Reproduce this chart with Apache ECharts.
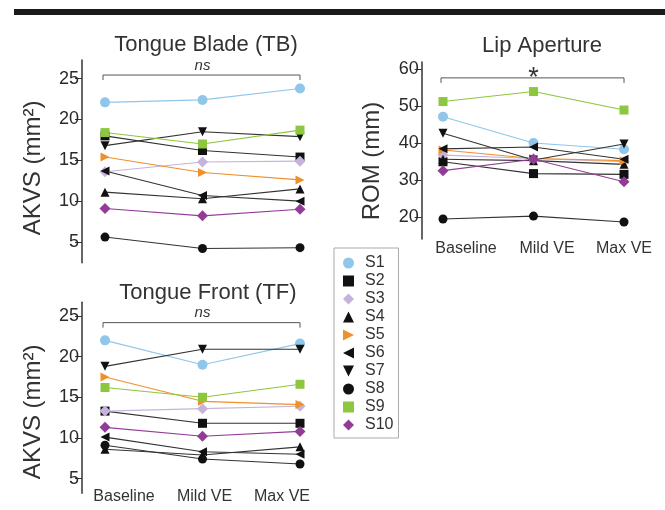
<!DOCTYPE html>
<html>
<head>
<meta charset="utf-8">
<script src="https://cdn.jsdelivr.net/npm/echarts@6/dist/echarts.min.js"></script>
<style>html,body{margin:0;padding:0;background:#fff}#c{width:665px;height:510px}</style>
</head>
<body>
<div id="c"></div>
<script>
// ---- data ----
const categories = ['Baseline', 'Mild VE', 'Max VE'];
const subjects = ['S1', 'S2', 'S3', 'S4', 'S5', 'S6', 'S7', 'S8', 'S9', 'S10'];
// Tongue Blade AKVS (mm²), one row per subject
const tongueBlade = [
  [22.1, 22.4, 23.8],
  [18.0, 16.2, 15.4],
  [13.6, 14.8, 14.9],
  [11.1, 10.3, 11.5],
  [15.4, 13.5, 12.6],
  [13.7, 10.7, 10.0],
  [16.8, 18.5, 17.9],
  [5.6, 4.2, 4.3],
  [18.4, 17.0, 18.7],
  [9.1, 8.2, 9.0]
];
// Tongue Front AKVS (mm²)
const tongueFront = [
  [22.0, 19.0, 21.6],
  [13.3, 11.8, 11.8],
  [13.3, 13.6, 13.9],
  [8.6, 7.9, 8.9],
  [17.5, 14.5, 14.1],
  [10.1, 8.3, 8.0],
  [18.8, 20.9, 20.9],
  [9.1, 7.4, 6.8],
  [16.2, 15.0, 16.6],
  [11.3, 10.2, 10.8]
];
// Lip Aperture ROM (mm)
const lipAperture = [
  [47.2, 40.1, 38.4],
  [35.0, 31.8, 31.6],
  [36.8, 35.9, 35.0],
  [35.7, 35.3, 34.3],
  [38.2, 35.9, 35.3],
  [38.5, 39.0, 35.7],
  [42.7, 35.5, 39.8],
  [19.5, 20.3, 18.7],
  [51.3, 54.0, 49.0],
  [32.6, 35.7, 29.6]
];
const akvsTicks = [5, 10, 15, 20, 25];
const romTicks = [20, 30, 40, 50, 60];

// ---- styles ----
const FONT = '"Liberation Sans", Arial, sans-serif';
const markerColors = ['#8fc6ea', '#111111', '#c6b3dd', '#111111', '#f0902a', '#111111', '#111111', '#111111', '#8dc63f', '#933c97'];
const lineColors = ['#8fc6ea', '#333333', '#c6b3dd', '#333333', '#f0902a', '#333333', '#333333', '#333333', '#8dc63f', '#933c97'];
const symbols = ['circle', 'rect', 'diamond', 'triangle',
  'path://M0,0L10,5L0,10Z', 'path://M10,0L0,5L10,10Z', 'path://M0,0L10,0L5,10Z',
  'circle', 'rect', 'diamond'];
const symbolSizes = [10, 9, 11, 9, 9, 9, 9, 9, 9, 11];

function yAxis(gridIndex, min, max, ticks, name, offset, shift) {
  return {
    type: 'value', gridIndex, min, max, offset,
    name, nameLocation: 'middle', nameGap: 37, nameRotate: 90,
    nameTextStyle: { fontSize: 24, color: '#333', fontFamily: FONT, padding: [0, shift, 0, 0] },
    axisLine: { show: true, lineStyle: { color: '#333', width: 1.5 } },
    axisTick: { show: true, length: 7, customValues: ticks, lineStyle: { color: '#333', width: 1 } },
    axisLabel: { customValues: ticks, fontSize: 18, color: '#2a2a2a', margin: 3, fontFamily: FONT },
    splitLine: { show: false }
  };
}
function xAxis(gridIndex, showLabel, pads, margin) {
  const rich = {};
  pads.forEach((p, i) => { rich['p' + i] = { padding: p, fontSize: 16, color: '#333', fontFamily: FONT }; });
  return {
    type: 'category', gridIndex, data: categories, boundaryGap: false,
    axisLine: { show: false }, axisTick: { show: false }, splitLine: { show: false },
    axisLabel: {
      show: showLabel, interval: 0, margin,
      formatter: (v, i) => '{p' + i + '|' + v + '}', rich
    }
  };
}

const series = [];
[tongueBlade, tongueFront, lipAperture].forEach((panel, g) => {
  panel.forEach((vals, i) => {
    series.push({
      name: subjects[i], type: 'line', xAxisIndex: g, yAxisIndex: g,
      data: vals, symbol: symbols[i], symbolSize: symbolSizes[i],
      showAllSymbol: true, animation: false, silent: true,
      itemStyle: { color: markerColors[i], borderWidth: 0 },
      lineStyle: { color: lineColors[i], width: 1.1 },
      z: 2
    });
  });
});

const chart = echarts.init(document.getElementById('c'), null, { renderer: 'canvas' });
chart.setOption({
  backgroundColor: '#fff',
  animation: false,
  title: [
    { text: 'Tongue Blade (TB)', left: 206, top: 34, textAlign: 'center', padding: 0,
      textStyle: { fontSize: 22, fontWeight: 'normal', color: '#333', fontFamily: FONT } },
    { text: 'Tongue Front (TF)', left: 208, top: 282, textAlign: 'center', padding: 0,
      textStyle: { fontSize: 22, fontWeight: 'normal', color: '#333', fontFamily: FONT } },
    { text: 'Lip Aperture', left: 542, top: 35, textAlign: 'center', padding: 0,
      textStyle: { fontSize: 22, fontWeight: 'normal', color: '#333', fontFamily: FONT } }
  ],
  legend: {
    orient: 'vertical', left: 334, top: 248, selectedMode: false,
    padding: [6, 5, 4, 9], itemGap: 0, itemWidth: 11, itemHeight: 11,
    borderColor: '#aaa', borderWidth: 1,
    textStyle: { fontSize: 16, color: '#333', fontFamily: FONT, lineHeight: 18, padding: [0, 0, 0, 6] },
    data: subjects.map((s, i) => ({ name: s, icon: symbols[i], itemStyle: { color: markerColors[i] } }))
  },
  grid: [
    { left: 105, top: 60, width: 195, height: 202.7 },
    { left: 105, top: 302.3, width: 195, height: 191 },
    { left: 443, top: 62, width: 181, height: 177 }
  ],
  xAxis: [
    xAxis(0, false, [[0, 0, 0, 0], [0, 0, 0, 0], [0, 0, 0, 0]], 0),
    xAxis(1, true, [[0, 0, 0, 38], [0, 0, 0, 4], [0, 36, 0, 0]], -5),
    xAxis(2, true, [[0, 0, 0, 46], [0, 0, 0, 27], [0, 0, 0, 0]], 2)
  ],
  yAxis: [
    yAxis(0, 2.46, 27.29, akvsTicks, 'AKVS (mm²)', 23, 13),
    yAxis(1, 3.19, 26.68, akvsTicks, 'AKVS (mm²)', 23, 28),
    yAxis(2, 14.1, 62, romTicks, 'ROM (mm)', 21.3, 21)
  ],
  series
});

// significance brackets and header bar
const brackets = [
  { grid: 0, y: 25.45, label: 'ns', italic: true, size: 15 },
  { grid: 1, y: 24.18, label: 'ns', italic: true, size: 15 },
  { grid: 2, y: 57.7, label: '*', italic: false, size: 27 }
];
const graphics = [
  { type: 'rect', shape: { x: 14, y: 9, width: 651, height: 6 }, style: { fill: '#1a1a1a' }, silent: true }
];
brackets.forEach(b => {
  const p0 = chart.convertToPixel({ gridIndex: b.grid }, [0, b.y]);
  const p1 = chart.convertToPixel({ gridIndex: b.grid }, [2, b.y]);
  const h = 5;
  graphics.push({
    type: 'polyline', silent: true,
    shape: { points: [[p0[0] - 2, p0[1] + h], [p0[0] - 2, p0[1]], [p1[0], p1[1]], [p1[0], p1[1] + h]] },
    style: { stroke: '#555', lineWidth: 1, fill: null }
  });
  const mid = (p0[0] + p1[0]) / 2;
  graphics.push({
    type: 'text', silent: true,
    x: mid, y: b.italic ? p0[1] - 2 : p0[1] + 14,
    style: {
      text: b.label, fontSize: b.size, fontStyle: b.italic ? 'italic' : 'normal',
      fontFamily: FONT, fill: '#333', align: 'center', verticalAlign: 'bottom'
    }
  });
});
chart.setOption({ graphic: graphics });
</script>
</body>
</html>
